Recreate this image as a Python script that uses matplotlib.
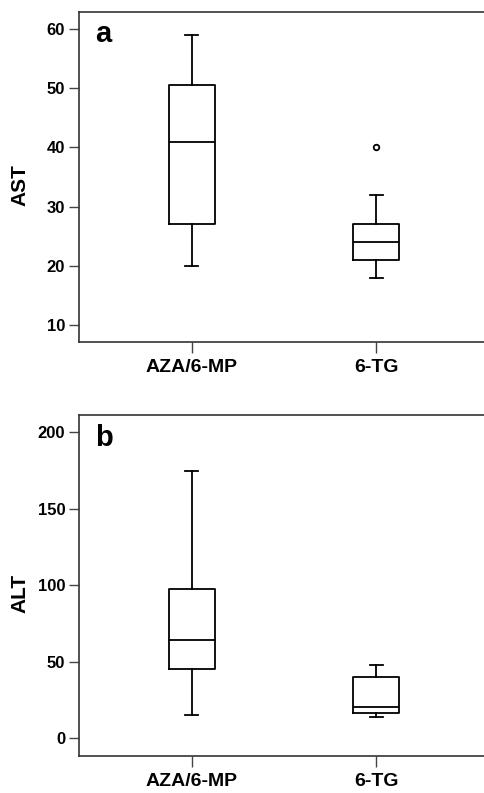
import matplotlib
matplotlib.use("Agg")
from matplotlib import pyplot as plt

plt.rcParams['font.family'] = ['Liberation Sans', 'DejaVu Sans']
plt.rcParams['font.weight'] = 'bold'

groups = ["AZA/6-MP", "6-TG"]

# AST panel: whisker low, q1, median, q3, whisker high, outliers
ast_low = [20, 18]
ast_q1 = [27, 21]
ast_med = [41, 24]
ast_q3 = [50.5, 27]
ast_high = [59, 32]
ast_fliers = [[], [40]]

# ALT panel
alt_low = [15, 14]
alt_q1 = [45.5, 16.3]
alt_med = [64, 20.5]
alt_q3 = [97.5, 40]
alt_high = [175, 47.7]
alt_fliers = [[], []]


def make_stats(low, q1, med, q3, high, fliers):
    stats = []
    for i in range(len(groups)):
        stats.append(dict(whislo=low[i], q1=q1[i], med=med[i], q3=q3[i],
                          whishi=high[i], fliers=fliers[i], label=groups[i]))
    return stats


def draw_panel(ax, stats, ylabel, letter, yticks, ylim):
    lw = 1.3
    ax.bxp(stats, positions=[1, 2], widths=0.25, capwidths=0.07,
           boxprops=dict(color='black', linewidth=lw),
           whiskerprops=dict(color='black', linewidth=lw),
           capprops=dict(color='black', linewidth=lw),
           medianprops=dict(color='black', linewidth=lw),
           flierprops=dict(marker='o', markersize=4, markerfacecolor='white',
                           markeredgecolor='black', markeredgewidth=1.3))
    ax.set_xlim(0.39, 2.59)
    ax.set_ylim(*ylim)
    ax.set_yticks(yticks)
    ax.set_xticks([1, 2])
    ax.set_xticklabels(groups, fontsize=14, fontweight='bold')
    ax.set_ylabel(ylabel, fontsize=15, fontweight='bold')
    # both labels sit at the same spot, like the original
    ax.yaxis.set_label_coords(-0.122, 0.476)
    ax.tick_params(axis='y', labelsize=12, length=7, width=1, color='#444444', pad=3)
    ax.tick_params(axis='x', length=8, width=1, color='#444444', pad=4)
    for s in ['left', 'bottom', 'top']:
        ax.spines[s].set_color('#333333')
        ax.spines[s].set_linewidth(1.2)
    ax.spines['right'].set_visible(False)
    ax.text(0.04, 0.975, letter, transform=ax.transAxes, fontsize=21,
            fontweight='bold', va='top', ha='left')


fig = plt.figure(figsize=(4.85, 7.93), dpi=100)
ax1 = fig.add_axes([0.163, 0.5687, 0.837, 0.4162])
ax2 = fig.add_axes([0.163, 0.0467, 0.837, 0.43])

draw_panel(ax1, make_stats(ast_low, ast_q1, ast_med, ast_q3, ast_high, ast_fliers),
           "AST", "a", [10, 20, 30, 40, 50, 60], (7.1, 62.9))
draw_panel(ax2, make_stats(alt_low, alt_q1, alt_med, alt_q3, alt_high, alt_fliers),
           "ALT", "b", [0, 50, 100, 150, 200], (-11.6, 211.3))

fig.savefig("out.png", dpi=100)
